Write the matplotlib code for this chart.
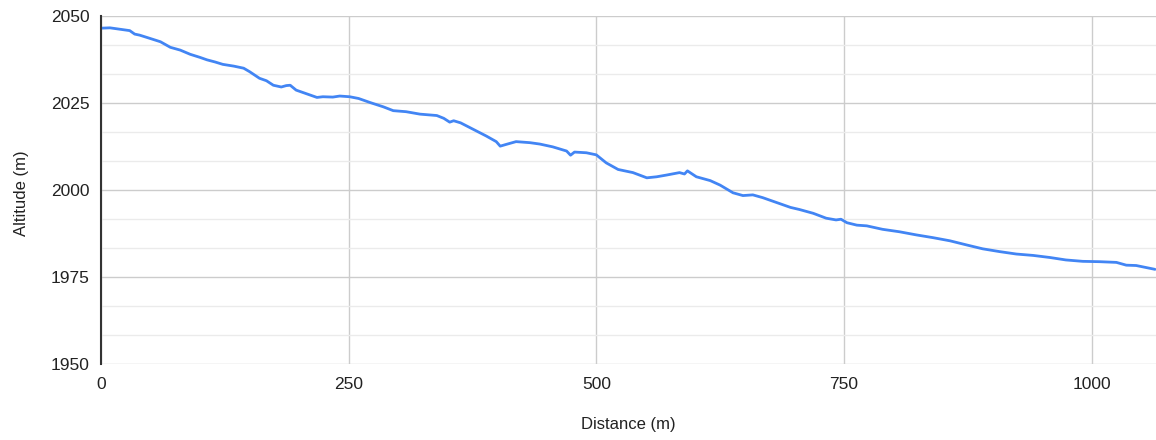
import matplotlib.pyplot as plt
from matplotlib.ticker import MultipleLocator

# distance (m) and altitude (m)
distance = [0, 9, 19, 29, 34, 39, 49, 60, 70, 80, 90, 100, 107, 115, 123, 134,
            144, 150, 160, 167, 174, 182, 187, 191, 197, 208, 218, 224, 234, 241,
            251, 260, 272, 285, 295, 308, 322, 339, 346, 352, 356, 363, 376, 389,
            399, 403, 409, 419, 433, 443, 456, 470, 474, 478, 490, 500, 510, 522,
            537, 551, 561, 571, 584, 589, 592, 601, 615, 625, 638, 648, 658, 668,
            682, 696, 705, 719, 732, 742, 747, 753, 763, 773, 789, 806, 823, 840,
            857, 874, 890, 907, 924, 941, 958, 974, 991, 1008, 1025, 1035, 1045, 1064]
altitude = [2046.5, 2046.6, 2046.2, 2045.8, 2044.8, 2044.5, 2043.6, 2042.6, 2041.0,
            2040.2, 2039.0, 2038.1, 2037.4, 2036.8, 2036.1, 2035.6, 2035.0, 2034.0,
            2032.1, 2031.4, 2030.1, 2029.6, 2030.0, 2030.1, 2028.7, 2027.6, 2026.6,
            2026.8, 2026.7, 2027.0, 2026.8, 2026.3, 2025.1, 2023.9, 2022.8, 2022.5,
            2021.8, 2021.4, 2020.6, 2019.5, 2019.9, 2019.3, 2017.4, 2015.5, 2013.9,
            2012.6, 2013.1, 2013.9, 2013.6, 2013.2, 2012.4, 2011.2, 2010.0, 2010.9,
            2010.7, 2010.1, 2007.8, 2005.9, 2005.0, 2003.5, 2003.8, 2004.3, 2005.0,
            2004.6, 2005.5, 2003.8, 2002.7, 2001.4, 1999.2, 1998.4, 1998.6, 1997.8,
            1996.4, 1995.0, 1994.4, 1993.3, 1991.9, 1991.4, 1991.6, 1990.6, 1989.9,
            1989.7, 1988.7, 1988.0, 1987.1, 1986.3, 1985.4, 1984.2, 1983.1, 1982.3,
            1981.6, 1981.2, 1980.6, 1979.9, 1979.5, 1979.4, 1979.2, 1978.4, 1978.3,
            1977.2]

x_ticks = [0, 250, 500, 750, 1000]
y_ticks = [1950, 1975, 2000, 2025, 2050]

W, H = 1156, 440

plt.rcParams["font.family"] = ["Liberation Sans", "DejaVu Sans"]

fig = plt.figure(figsize=(W / 100, H / 100), dpi=100)
ax = fig.add_axes([101 / W, 1 - 364 / H, (W - 101) / W, (364 - 16) / H])

ax.plot(distance, altitude, color="#4285f4", linewidth=2.0, solid_capstyle="round", zorder=3)

ax.set_xlim(0, 1065)
ax.set_ylim(1950, 2050)
ax.set_xticks(x_ticks)
ax.set_yticks(y_ticks)
ax.yaxis.set_minor_locator(MultipleLocator(25 / 3))

ax.grid(which="major", color="#cccccc", linewidth=1.0)
ax.grid(which="minor", axis="y", color="#ebebeb", linewidth=1.0)
ax.set_axisbelow(True)

for side in ["top", "right", "bottom"]:
    ax.spines[side].set_visible(False)
ax.spines["left"].set_color("#333333")
ax.spines["left"].set_linewidth(1.5)
ax.spines["left"].set_zorder(4)

ax.tick_params(which="both", length=0)
ax.tick_params(axis="y", pad=8, labelsize=12.5, labelcolor="#222222")
ax.tick_params(axis="x", pad=9, labelsize=12.5, labelcolor="#222222")

fig.text(628 / W, 1 - 424 / H, "Distance (m)", ha="center", va="center",
         fontsize=12, color="#222222")
fig.text(22 / W, 1 - 193 / H, "Altitude (m)", ha="center", va="center",
         rotation=90, fontsize=12, color="#222222")

fig.savefig("out.png", dpi=100)
